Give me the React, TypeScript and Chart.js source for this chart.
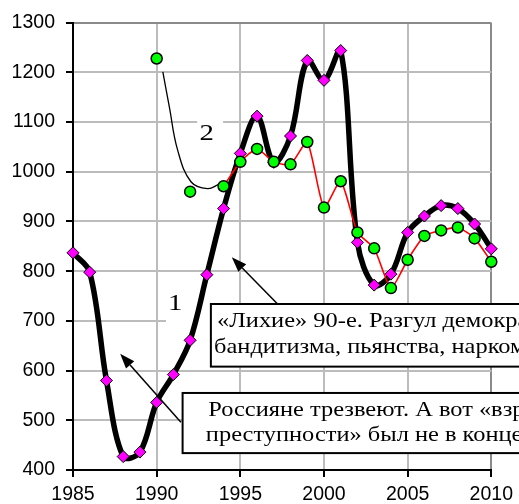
import React, { useEffect, useRef } from 'react';
import { Chart, registerables } from 'chart.js';

Chart.register(...registerables);

// ---- data ----
const years = [1985, 1986, 1987, 1988, 1989, 1990, 1991, 1992, 1993, 1994, 1995, 1996, 1997, 1998, 1999, 2000, 2001, 2002, 2003, 2004, 2005, 2006, 2007, 2008, 2009, 2010];
const series1 = [837, 798, 580, 427, 436, 536, 592, 661, 793, 926, 1037, 1112, 1019, 1072, 1224, 1184, 1244, 858, 772, 794, 878, 911, 932, 926, 895, 845];
const series2Years = [1990, 1991, 1992, 1993, 1994, 1995, 1996, 1997, 1998, 1999, 2000, 2001, 2002, 2003, 2004, 2005, 2006, 2007, 2008, 2009, 2010];
const series2 = [1228, null, 960, null, 971, 1020, 1046, 1020, 1015, 1060, 928, 981, 878, 846, 766, 823, 871, 882, 888, 866, 819];
const curve2Years = [1990.37, 1990.76, 1991.25, 1992.05, 1993.04, 1993.73];
const curve2Values = [1201, 1130, 1044, 980, 966, 975];
const xTicks = [1985, 1990, 1995, 2000, 2005, 2010];
const yTicks = [400, 500, 600, 700, 800, 900, 1000, 1100, 1200, 1300];

const box1Lines = ['«Лихие» 90-е. Разгул демократии,', 'бандитизма, пьянства, наркомании'];
const box2Lines = ['Россияне трезвеют. А вот «взрыв', 'преступности» был не в конце 80-х'];
const seriesLabels = ['1', '2'];

// ---- annotation layout (data units) ----
const LABEL_POS = [
  { x: 1991.11, y: 722, bg: [1990.56, 1993.26, 770, 690] },
  { x: 1992.99, y: 1064.6, bg: [1992.42, 1993.97, 1140, 1060] },
];
const BOXES = [
  { x0: 1993.24, x1: 2013, y0: 734, y1: 608, lines: [{ x: 1993.61, y: 687 }, { x: 1993.43, y: 636 }] },
  { x0: 1991.55, x1: 2013, y0: 555, y1: 434, lines: [{ x: 1993.08, y: 508 }, { x: 1992.94, y: 458 }] },
];
const ARROWS = [
  { from: [1997.46, 726], to: [1994.49, 828] },
  { from: [1991.45, 496], to: [1987.82, 634] },
];

function stretchedText(ctx: CanvasRenderingContext2D, text: string, x: number, y: number, sx: number) {
  ctx.save();
  ctx.translate(x, y);
  ctx.scale(sx, 1);
  ctx.fillText(text, 0, 0);
  ctx.restore();
}

const annotationPlugin = {
  id: 'annot',
  beforeDatasetsDraw(chart: any) {
    const { ctx } = chart;
    const sx = chart.scales.x, sy = chart.scales.y;
    ctx.save();
    LABEL_POS.forEach((l, i) => {
      const x0 = sx.getPixelForValue(l.bg[0]);
      const x1 = sx.getPixelForValue(l.bg[1]);
      const y0 = sy.getPixelForValue(l.bg[2]);
      const y1 = sy.getPixelForValue(l.bg[3]);
      ctx.fillStyle = '#ffffff';
      ctx.fillRect(x0, y0, x1 - x0, y1 - y0);
      ctx.fillStyle = '#000';
      ctx.font = '24px "Liberation Serif"';
      ctx.textAlign = 'center';
      ctx.textBaseline = 'alphabetic';
      stretchedText(ctx, seriesLabels[i], sx.getPixelForValue(l.x), sy.getPixelForValue(l.y), 1.2);
    });
    ctx.restore();
  },
  afterDatasetsDraw(chart: any) {
    const { ctx } = chart;
    const sx = chart.scales.x, sy = chart.scales.y;
    ctx.save();
    // arrows
    ARROWS.forEach((a) => {
      const fx = sx.getPixelForValue(a.from[0]), fy = sy.getPixelForValue(a.from[1]);
      const tx = sx.getPixelForValue(a.to[0]), ty = sy.getPixelForValue(a.to[1]);
      const ang = Math.atan2(ty - fy, tx - fx);
      const L = 15, W = 5.5;
      const bx = tx - L * Math.cos(ang), by = ty - L * Math.sin(ang);
      ctx.strokeStyle = '#000';
      ctx.lineWidth = 1.5;
      ctx.beginPath();
      ctx.moveTo(fx, fy);
      ctx.lineTo(bx, by);
      ctx.stroke();
      ctx.fillStyle = '#000';
      ctx.beginPath();
      ctx.moveTo(tx, ty);
      ctx.lineTo(bx + W * Math.sin(ang), by - W * Math.cos(ang));
      ctx.lineTo(bx - W * Math.sin(ang), by + W * Math.cos(ang));
      ctx.closePath();
      ctx.fill();
    });
    // boxes
    const texts = [box1Lines, box2Lines];
    BOXES.forEach((b, i) => {
      const x0 = sx.getPixelForValue(b.x0), x1 = sx.getPixelForValue(b.x1);
      const y0 = sy.getPixelForValue(b.y0), y1 = sy.getPixelForValue(b.y1);
      ctx.fillStyle = '#fff';
      ctx.fillRect(x0, y0, x1 - x0, y1 - y0);
      ctx.strokeStyle = '#000';
      ctx.lineWidth = 2;
      ctx.strokeRect(x0, y0, x1 - x0, y1 - y0);
      ctx.fillStyle = '#000';
      ctx.font = '22px "Liberation Serif"';
      ctx.textAlign = 'left';
      ctx.textBaseline = 'alphabetic';
      b.lines.forEach((p, j) => {
        stretchedText(ctx, texts[i][j], sx.getPixelForValue(p.x), sy.getPixelForValue(p.y), 1.11);
      });
    });
    ctx.restore();
  },
};

export default function App() {
  const ref = useRef<HTMLCanvasElement>(null);
  useEffect(() => {
    if (!ref.current) return;
    const gridX = (c: any) => (c.tick && c.tick.value === 2010 ? '#8a8a8a' : '#bcbcbc');
    const gridY = (c: any) => (c.tick && c.tick.value === 1300 ? '#8a8a8a' : '#bcbcbc');
    const tickFont = { family: '"Liberation Sans"', size: 19.5 };
    const chart = new Chart(ref.current, {
      type: 'line',
      data: {
        datasets: [
          {
            label: 'series2',
            data: series2Years.map((x, i) => ({ x, y: series2[i] })) as any,
            borderColor: '#ff0000',
            borderWidth: 1.6,
            tension: 0.2,
            pointStyle: 'circle',
            pointRadius: 5.5,
            pointBackgroundColor: '#00ff00',
            pointBorderColor: '#000',
            pointBorderWidth: 1.5,
            spanGaps: false,
            clip: false as any,
            order: 0,
          },
          {
            label: 'curve2',
            data: curve2Years.map((x, i) => ({ x, y: curve2Values[i] })) as any,
            borderColor: '#000',
            borderWidth: 1.3,
            tension: 0.4,
            pointRadius: 0,
            clip: false as any,
            order: 1,
          },
          {
            label: 'series1',
            data: years.map((x, i) => ({ x, y: series1[i] })) as any,
            borderColor: '#000',
            borderWidth: 5.5,
            borderJoinStyle: 'round',
            tension: 0.35,
            pointStyle: 'rectRot',
            pointRadius: 6,
            pointBackgroundColor: '#ff00ff',
            pointBorderColor: '#000',
            pointBorderWidth: 1,
            clip: false as any,
            order: 2,
          },
        ],
      },
      options: {
        responsive: false,
        animation: false,
        events: [],
        layout: { padding: { top: 22, right: 26, left: 0, bottom: 0 } },
        plugins: { legend: { display: false }, tooltip: { enabled: false } },
        scales: {
          x: {
            type: 'linear',
            min: 1985,
            max: 2010,
            afterBuildTicks: (s: any) => { s.ticks = xTicks.map((v) => ({ value: v })); },
            afterFit: (s: any) => { s.height = 34; },
            ticks: { callback: (v: any) => String(v), font: tickFont, color: '#000', padding: 6, maxRotation: 0, autoSkip: false },
            grid: { color: gridX, lineWidth: 2, tickLength: 7, tickColor: '#000', tickWidth: 2 },
            border: { color: '#000', width: 2 },
          },
          y: {
            type: 'linear',
            min: 400,
            max: 1300,
            afterBuildTicks: (s: any) => { s.ticks = yTicks.map((v) => ({ value: v })); },
            afterFit: (s: any) => { s.width = 73; },
            ticks: { callback: (v: any) => String(v), font: tickFont, color: '#000', padding: 11, autoSkip: false },
            grid: { color: gridY, lineWidth: 2, tickLength: 7, tickColor: '#000', tickWidth: 2 },
            border: { color: '#000', width: 2 },
          },
        },
      },
      plugins: [annotationPlugin],
    });
    return () => chart.destroy();
  }, []);
  return (
    <div style={{ position: 'absolute', left: 0, top: 0, width: 519, height: 504, background: '#fff' }}>
      <canvas ref={ref} width={519} height={504} style={{ display: 'block' }} />
    </div>
  );
}
